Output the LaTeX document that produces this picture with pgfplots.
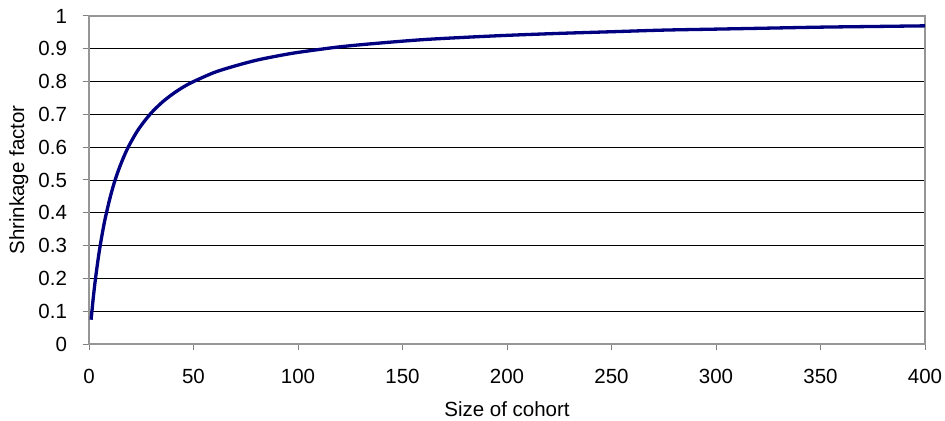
\documentclass[border=0pt]{standalone}
\usepackage{fontspec}
\setmainfont{Liberation Sans}
\usepackage{pgfplots}
\pgfplotsset{compat=1.18}
\definecolor{navyline}{RGB}{0,0,128}
\definecolor{axgray}{RGB}{128,128,128}
\definecolor{boxgray}{RGB}{150,150,150}
\begin{document}
\fontsize{20.5bp}{24bp}\selectfont
\begin{tikzpicture}
\useasboundingbox (0,0) rectangle (945bp,421bp);
\begin{axis}[
  at={(89bp,77bp)}, anchor=south west,
  scale only axis, width=836bp, height=328bp,
  xmin=0, xmax=400, ymin=0, ymax=1,
  xtick={0,50,...,400}, ytick={0,0.1,...,1},
  yticklabels={0,0.1,0.2,0.3,0.4,0.5,0.6,0.7,0.8,0.9,1},
  xticklabels={0,50,100,150,200,250,300,350,400},
  axis line style={boxgray, line width=1.3bp},
  ymajorgrids, major grid style={black, line width=0.8bp},
  tick style={axgray, line width=1bp},
  tick align=outside, major tick length=6bp,
  xtick pos=bottom, ytick pos=left,
  tick label style={font=\fontsize{20.5bp}{24bp}\selectfont},
  xticklabel style={yshift=-12bp},
  yticklabel style={xshift=-9bp},
  xlabel={Size of cohort}, ylabel={Shrinkage factor},
  label style={font=\fontsize{20.5bp}{24bp}\selectfont},
  xlabel style={at={(axis description cs:0.5,0)}, inner sep=0pt, yshift=-57bp, anchor=north},
  ylabel style={at={(axis description cs:0,0.5)}, anchor=base, inner sep=0pt, yshift=65bp},
]
\addplot[navyline, line width=3.3bp, smooth] coordinates {
(1,0.074) (2,0.138) (3,0.194) (4,0.242) (5,0.286) (6,0.324) (7,0.359) (8,0.390)
(10,0.444) (12,0.490) (14,0.528) (16,0.561) (18,0.590) (20,0.615) (23,0.648)
(26,0.675) (30,0.706) (35,0.737) (40,0.762) (45,0.783) (50,0.800) (60,0.828)
(70,0.848) (80,0.865) (90,0.878) (100,0.889) (120,0.906) (140,0.918) (160,0.928)
(180,0.935) (200,0.941) (225,0.947) (250,0.952) (275,0.957) (300,0.960)
(325,0.963) (350,0.966) (375,0.968) (400,0.970)
};
\end{axis}
\end{tikzpicture}
\end{document}
